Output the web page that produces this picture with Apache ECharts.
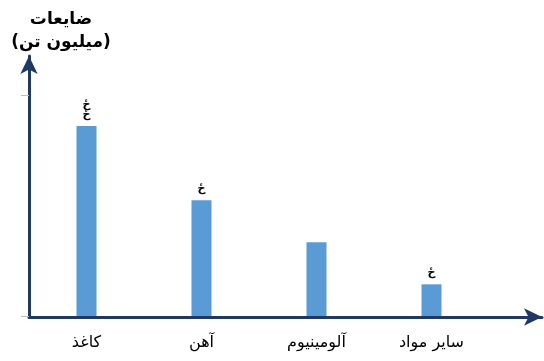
<!DOCTYPE html>
<html><head><meta charset="utf-8">
<script src="https://cdn.jsdelivr.net/npm/echarts@6/dist/echarts.min.js"></script>
<style>html,body{margin:0;padding:0;background:#fff}#c{width:544px;height:361px}</style>
</head><body><div id="c"></div>
<script>
const categories = ['کاغذ', 'آهن', 'آلومینیوم', 'سایر مواد'];
const values = [25.8, 15.7, 10.0, 4.3];
const barLabels = ['ځ\nځ', 'ځ', '', 'ځ'];
const yTitle = 'ضایعات\n(میلیون تن)';
const yMax = 30;

const chart = echarts.init(document.getElementById('c'));
chart.setOption({
  animation: false,
  grid: [
    {left: 29, right: 55, top: 95, bottom: 45},
    {left: 29, right: 2, top: 56, bottom: 44}
  ],
  title: {
    text: yTitle, left: 56, top: 3, textAlign: 'center',
    textStyle: {fontFamily: 'DejaVu Sans', fontSize: 17, fontWeight: 'bold', color: '#000', lineHeight: 23, align: 'center'}
  },
  xAxis: [
    {gridIndex: 0, type: 'category', data: categories,
     axisLine: {show: false}, axisTick: {show: false},
     axisLabel: {fontFamily: 'DejaVu Sans', fontSize: 16, color: '#000', margin: 19}},
    {gridIndex: 1, type: 'value', min: 0, max: 1, show: true,
     axisLine: {show: true, lineStyle: {color: '#1f3864', width: 3}, symbol: ['none', 'arrow'], symbolSize: [13, 18]},
     axisTick: {show: false}, axisLabel: {show: false}, splitLine: {show: false}}
  ],
  yAxis: [
    {gridIndex: 0, type: 'value', min: 0, max: yMax, interval: yMax,
     axisLine: {show: true, lineStyle: {color: '#bfbfbf', width: 1}},
     axisTick: {show: true, length: 8, lineStyle: {color: '#bfbfbf'}},
     axisLabel: {show: false}, splitLine: {show: false}},
    {gridIndex: 1, type: 'value', min: 0, max: 1,
     axisLine: {show: true, lineStyle: {color: '#1f3864', width: 3}, symbol: ['none', 'arrow'], symbolSize: [13, 18]},
     axisTick: {show: false}, axisLabel: {show: false}, splitLine: {show: false}}
  ],
  series: [{
    type: 'bar', xAxisIndex: 0, yAxisIndex: 0,
    data: values.map((v, i) => ({value: v, label: {formatter: barLabels[i]}})),
    barWidth: 20,
    itemStyle: {color: '#5b9bd5'},
    label: {show: true, position: 'top', distance: 6, color: '#000', fontSize: 11, fontWeight: 'bold', fontFamily: 'DejaVu Sans', lineHeight: 10}
  }]
});
</script></body></html>
